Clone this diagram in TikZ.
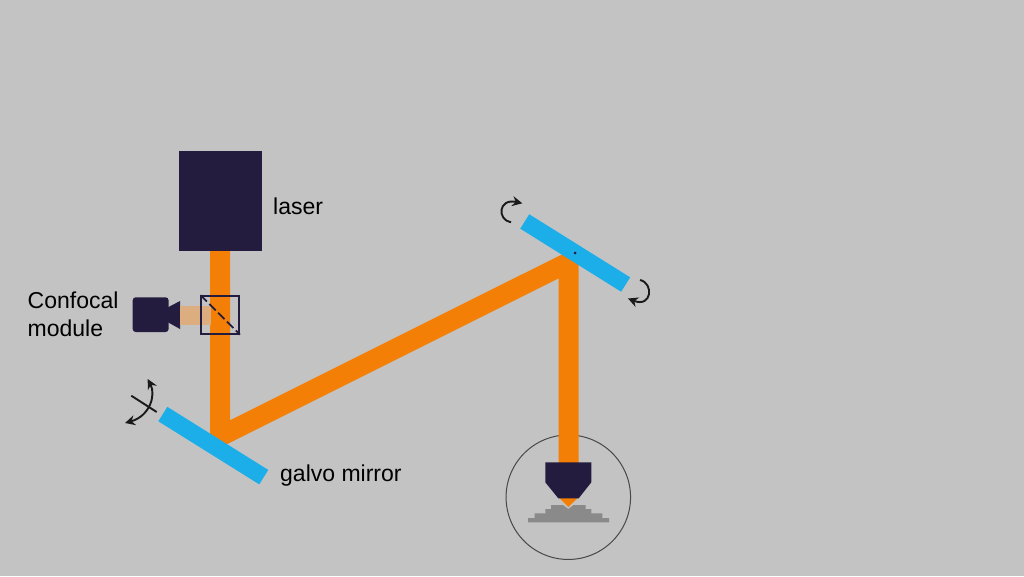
\documentclass[tikz,border=0pt]{standalone}
\usepackage{fontspec}
\setmainfont{Liberation Sans}
\usetikzlibrary{arrows.meta, positioning}
\definecolor{bgrey}{HTML}{C3C3C3}
\definecolor{navy}{HTML}{231C3E}
\definecolor{beamorange}{HTML}{F37F07}
\definecolor{beamtan}{HTML}{DCAE7F}
\definecolor{mirrorblue}{HTML}{1CAEE8}
\definecolor{samplegrey}{HTML}{8A8A8A}
\definecolor{inkblack}{HTML}{1A1A1A}
\tikzset{
    mirror/.style={fill=mirrorblue, minimum width=119pt, minimum height=17pt, inner sep=0pt, rotate=-32},
    beam/.style={draw=beamorange, line width=20pt, miter limit=10},
    label/.style={font=\fontsize{23}{27.7}\selectfont, text=black, inner sep=0pt, align=left},
    turn/.style={draw=inkblack, line width=1.9pt, -{Stealth[length=10pt,width=10pt]}},
}
\begin{document}
\begin{tikzpicture}[x=1pt, y=-1pt]
        \fill[bgrey] (0,0) rectangle (1024,576);
        \useasboundingbox (0,0) rectangle (1024,576);
        % laser and beam path
        \node[draw=inkblack!80, line width=1pt, circle, minimum size=124.5pt, inner sep=0pt] (zoomcircle) at (568.3,497.2) {};
        \node[fill=navy, minimum width=83.5pt, minimum height=100pt, inner sep=0pt] (laser) at (220.3,201) {};
        \coordinate (galvobend) at (220,436.5);
        \coordinate (scanbend) at (568.5,262.3);
        \coordinate (objtop) at (568.5,464);
        \draw[beam] (laser.south -| galvobend) -- (galvobend) -- (scanbend) -- (objtop);
        \node[mirror] (galvo) at (213.3,445.6) {};
        \node[mirror] (scan) at (575.2,253) {};
        \fill[navy] (575,253) circle (1.5);
        % confocal module
        \fill[navy, rounded corners=3pt] (132.7,297.3) rectangle (168.6,332);
        \fill[navy] (168,307.3) -- (180,301) -- (180,329) -- (168,322.3) -- cycle;
        \node[fill=beamtan, minimum width=30.5pt, minimum height=19.6pt, inner sep=0pt] (confocalbeam) at (195.4,315.5) {};
        \node[draw=navy, line width=1.5pt, minimum size=38pt, inner sep=0pt] (splitter) at (220.2,314.9) {};
        \draw[navy, line width=1.8pt, dash pattern=on 9pt off 3.5pt] (splitter.north west) -- (splitter.south east);
        % objective and sample
        \fill[samplegrey] (528,522.3) -- (528,518) -- (534.7,518) -- (534.7,513.3) -- (545.3,513.3) -- (545.3,509) -- (551,509) -- (551,505) -- (563,505) -- (568.3,509) -- (573.5,505) -- (585.7,505) -- (585.7,509) -- (591.3,509) -- (591.3,513.3) -- (602.3,513.3) -- (602.3,518) -- (609,518) -- (609,522.3) -- cycle;
        \fill[beamorange] (559.3,498) -- (577.7,498) -- (568.3,507) -- cycle;
        \fill[navy] (545.3,462.3) -- (591.3,462.3) -- (591.3,482.3) -- (578.7,498.3) -- (558.3,498.3) -- (545.3,482.3) -- cycle;
        % rotation arrows
        \draw[inkblack, line width=1.9pt] (131.3,395.7) -- (156.7,412);
        \draw[draw=inkblack, line width=1.9pt, {Stealth[length=10pt,width=10pt]}-{Stealth[length=10pt,width=10pt]}] (147.7,379) .. controls (156,395) and (150,416) .. (125,423);
        \draw[turn] (511,222.3) .. controls (497,220) and (498,198) .. (522.3,203.3);
        \draw[turn] (640,280) .. controls (654,283) and (652,308) .. (628,298.5);
        % labels
        \node[label, anchor=base west] (laserlabel) at (273,214.5) {laser};
        \node[label, anchor=north west] (confocallabel) at (27.5,291.5) {Confocal\\module};
        \node[label, anchor=base west] (galvolabel) at (280,481.7) {galvo mirror};
    \end{tikzpicture}
\end{document}
